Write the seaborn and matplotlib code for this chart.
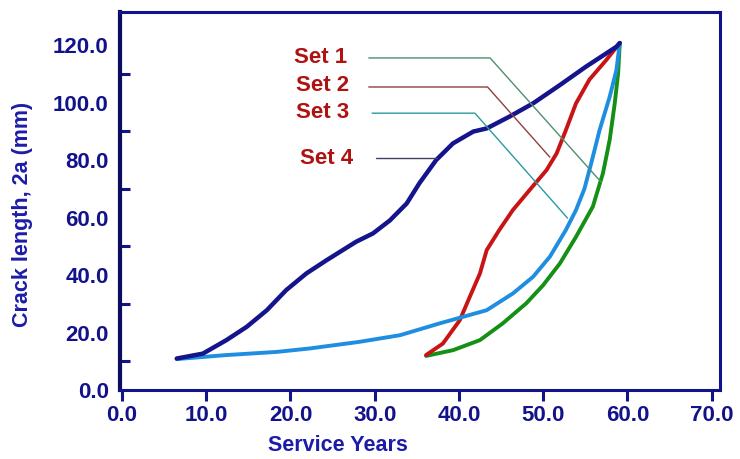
import pandas as pd
import matplotlib
matplotlib.use("Agg")
import matplotlib.pyplot as plt
import seaborn as sns
from matplotlib.ticker import FixedLocator

# curve data (service years, crack length mm)
set1_x = [36.1, 39.3, 42.5, 45.2, 48.0, 50.0, 52.0, 53.9, 55.9, 57.1, 57.9, 58.5, 58.9, 59.1]
set1_y = [11.9, 13.9, 17.4, 23.2, 30.2, 36.5, 44.1, 53.3, 63.8, 75.4, 87.0, 99.7, 110.1, 120.7]

set2_x = [36.1, 38.1, 40.1, 41.3, 42.5, 43.3, 44.8, 46.4, 48.4, 50.4, 51.6, 52.7, 53.9, 55.5, 57.5, 59.1]
set2_y = [12.2, 16.2, 24.3, 32.5, 40.6, 48.7, 55.7, 62.6, 69.6, 76.5, 82.3, 90.4, 99.7, 108.0, 114.8, 120.7]

set3_x = [6.5, 12.4, 18.4, 22.3, 28.2, 33.0, 37.7, 40.5, 43.3, 46.4, 48.8, 50.8, 52.7, 53.9, 54.9, 55.7, 56.7, 57.9, 58.7, 59.1]
set3_y = [10.8, 12.2, 13.3, 14.5, 16.8, 19.1, 23.2, 25.5, 27.8, 33.6, 39.4, 46.4, 55.7, 62.6, 70.0, 78.8, 90.4, 102.0, 111.3, 120.7]

set4_x = [6.5, 9.6, 12.4, 14.8, 17.2, 19.5, 21.9, 24.3, 27.8, 29.8, 31.8, 33.8, 35.3, 37.3, 39.3, 41.7, 43.3, 46.0, 48.8, 52.0, 55.1, 58.7, 59.1]
set4_y = [11.0, 12.7, 17.4, 22.0, 27.8, 34.8, 40.6, 45.2, 51.6, 54.5, 59.0, 64.9, 71.9, 80.0, 85.8, 89.9, 91.0, 95.1, 99.7, 106.1, 112.5, 119.4, 120.7]

set_names = ["Set 1", "Set 2", "Set 3", "Set 4"]
set_colors = ["#149014", "#c81414", "#1e8ee0", "#14148c"]
set_widths = [2.8, 2.8, 2.8, 3.2]

# label positions and leader lines (annotation)
label_pos = [(20.4, 115.5), (20.7, 106.0), (20.7, 96.5), (21.1, 80.5)]
leader_x = [[29.3, 43.7, 56.9], [29.3, 43.4, 50.8], [29.7, 41.9, 52.9], [30.2, 37.4]]
leader_y = [[115.5, 115.5, 72.3], [105.4, 105.4, 81.0], [96.3, 96.3, 59.8], [80.7, 80.7]]
leader_colors = ["#4f8f6f", "#8f3f3f", "#2a9aa0", "#404060"]

xticks = [0, 10, 20, 30, 40, 50, 60, 70]
yticks = [0, 20, 40, 60, 80, 100, 120]
yminor = [10, 30, 50, 70, 90, 110]

frames = []
for name, xs, ys in zip(set_names, [set1_x, set2_x, set3_x, set4_x], [set1_y, set2_y, set3_y, set4_y]):
    frames.append(pd.DataFrame({"years": xs, "crack": ys, "set": name}))
df = pd.concat(frames, ignore_index=True)

sns.set_style("white")
plt.rcParams["font.family"] = ["Liberation Sans", "DejaVu Sans"]
plt.rcParams["font.weight"] = "bold"

navy = "#12128a"

fig = plt.figure(figsize=(7.4, 4.59), dpi=100)
ax = fig.add_axes([0.162, 0.150, 0.811, 0.824])

for name, color, lw in zip(set_names, set_colors, set_widths):
    sns.lineplot(data=df[df["set"] == name], x="years", y="crack", sort=False,
                 color=color, linewidth=lw, ax=ax, legend=False,
                 solid_joinstyle="round", solid_capstyle="round")

for name, (tx, ty), lx, ly, lc in zip(set_names, label_pos, leader_x, leader_y, leader_colors):
    ax.plot(lx, ly, color=lc, linewidth=1.0)
    ax.text(tx, ty, name, color="#b01212", fontsize=16, fontweight="bold",
            va="center", ha="left")

ax.set_xlim(-0.25, 71.0)
ax.set_ylim(0, 131.5)
ax.set_xticks(xticks)
ax.set_xticklabels([f"{v:.1f}" for v in xticks])
ax.set_yticks(yticks)
ax.set_yticklabels([f"{v:.1f}" for v in yticks])
ax.yaxis.set_minor_locator(FixedLocator(yminor))

ax.tick_params(axis="y", which="major", direction="in", length=10, width=2.2,
               color=navy, labelcolor=navy, labelsize=16, pad=8)
ax.tick_params(axis="y", which="minor", direction="in", length=7, width=2.2, color=navy, left=True)
ax.tick_params(axis="x", which="major", direction="out", length=8, width=2.2,
               color=navy, labelcolor=navy, labelsize=16, pad=3, bottom=True)
for lab in ax.get_xticklabels() + ax.get_yticklabels():
    lab.set_fontweight("bold")

for side, sp in ax.spines.items():
    sp.set_visible(True)
    sp.set_color(navy)
    sp.set_linewidth(2.2)
ax.spines["left"].set_linewidth(3.0)
ax.spines["left"].set_color("#0c0c60")

ax.set_xlabel("Service Years", color="#1c1ca8", fontsize=15.5, fontweight="bold")
ax.set_ylabel("Crack length, 2a (mm)", color="#1c1ca8", fontsize=15.5, fontweight="bold")
ax.xaxis.set_label_coords(0.363, -0.118)
ax.yaxis.set_label_coords(-0.145, 0.465)

fig.savefig("out.png", dpi=100)
